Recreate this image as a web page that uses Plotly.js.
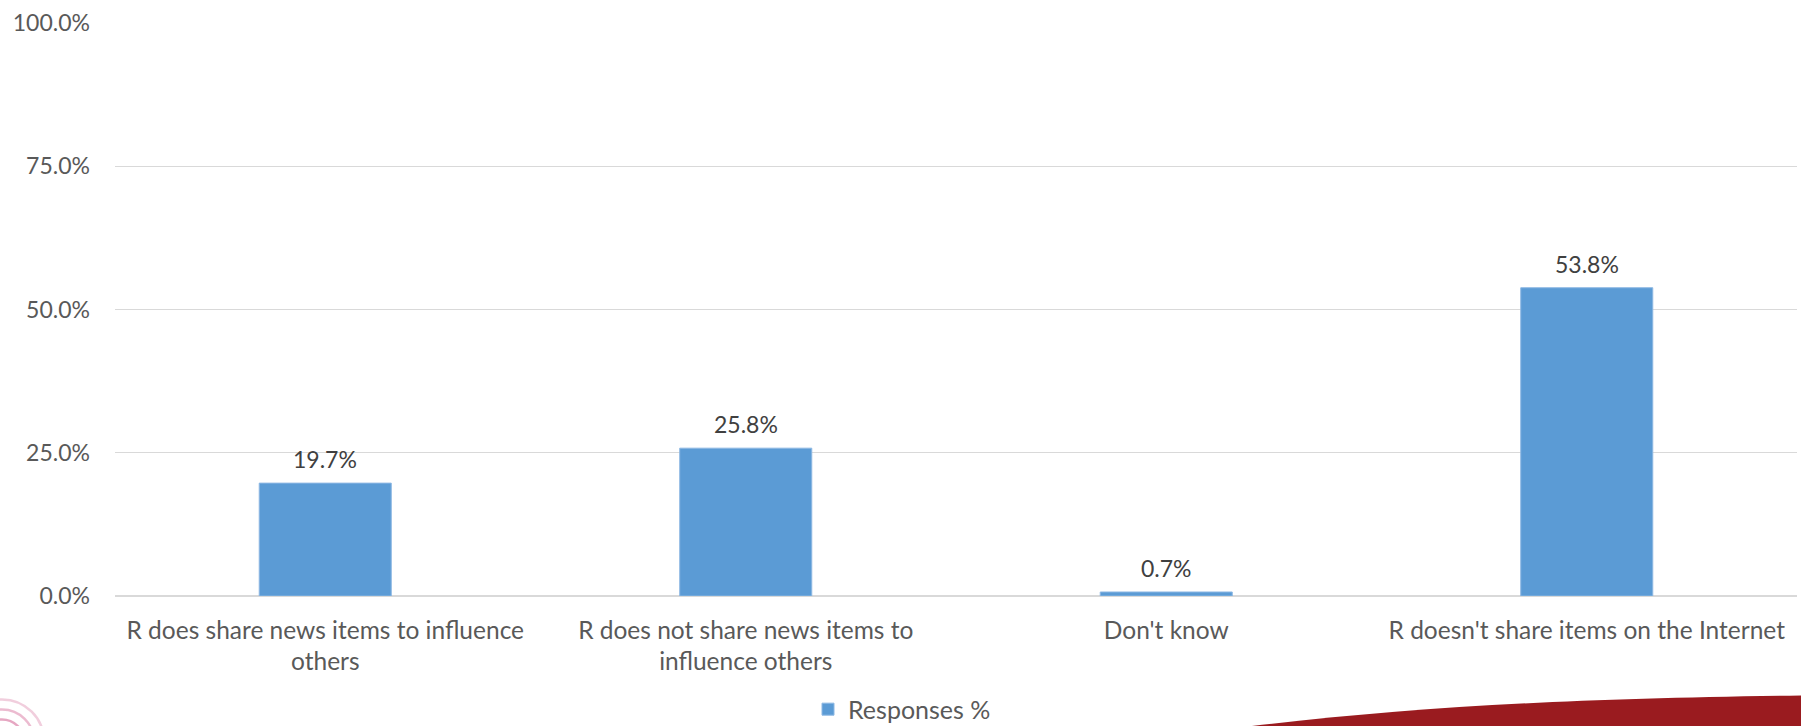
<!DOCTYPE html>
<html>
<head>
<meta charset="utf-8">
<script src="https://cdn.plot.ly/plotly-3.0.1.min.js"></script>
<style>html,body{margin:0;padding:0;background:#fff;}#chart{width:1801px;height:726px;}</style>
</head>
<body>
<div id="chart"></div>
<script>
const categories = [
  "R does share news items to influence<br>others",
  "R does not share news items to<br>influence others",
  "Don't know",
  "R doesn't share items on the Internet"
];
const responses = [0.197, 0.258, 0.007, 0.538];
const seriesName = "Responses %";
const yTickVals = [0, 0.25, 0.5, 0.75, 1.0];

// layout geometry (pixels)
const W = 1801, H = 726;
const L = 115, R = 4, T = 23, B = 129.5;
const pw = W - L - R, ph = H - T - B;
const px = x => (x - L) / pw;
const py = y => (H - B - y) / ph;

const FONT = "Lato, 'Open Sans', sans-serif";

const trace = {
  type: 'bar',
  x: categories,
  y: responses,
  name: seriesName,
  marker: {color: '#5B9BD5', line: {color: '#8DB8E3', width: 1}},
  width: 0.314,
  hoverinfo: 'none',
  showlegend: true
};

const annotations = categories.map((c, i) => ({
  x: c, y: responses[i], xref: 'x', yref: 'y',
  text: (responses[i] * 100).toFixed(1) + '%',
  showarrow: false, yanchor: 'middle', yshift: 24,
  font: {family: FONT, size: 23, color: '#404040'}
}));

// decorative slide elements
const swoosh = {
  type: 'path', xref: 'paper', yref: 'paper', layer: 'above',
  path: `M ${px(1240)},${py(728)} C ${px(1410)},${py(708)} ${px(1560)},${py(699)} ${px(1803)},${py(696)} L ${px(1803)},${py(728)} Z`,
  fillcolor: '#9A1B1F', line: {width: 0}
};
const rings = [12, 22, 32, 42].map((r, i) => ({
  type: 'circle', xref: 'paper', yref: 'paper',
  x0: px(2 - r), x1: px(2 + r), y0: py(742 + r), y1: py(742 - r),
  line: {color: 'rgba(200,60,120,' + (0.55 - i * 0.1) + ')', width: 2.5},
  fillcolor: 'rgba(0,0,0,0)'
}));

const layout = {
  width: W, height: H,
  margin: {l: L, r: R, t: T, b: B, pad: 0, autoexpand: false},
  paper_bgcolor: '#ffffff', plot_bgcolor: '#ffffff',
  font: {family: FONT, size: 23, color: '#595959'},
  xaxis: {
    type: 'category',
    showgrid: false, zeroline: false,
    showline: false, ticks: '',
    tickfont: {family: FONT, size: 24.5, color: '#595959'},
    ticklabelstandoff: 17,
    automargin: false,
    fixedrange: true
  },
  yaxis: {
    range: [0, 1],
    tickvals: yTickVals,
    tickformat: '.1%',
    showgrid: true, gridcolor: '#D9D9D9', gridwidth: 1.4,
    zeroline: true, zerolinecolor: '#D9D9D9', zerolinewidth: 1.6,
    showline: false, ticks: '',
    ticklabelstandoff: 24,
    automargin: false,
    tickfont: {family: FONT, size: 23, color: '#595959'},
    fixedrange: true
  },
  showlegend: true,
  legend: {
    orientation: 'h', xanchor: 'left', yanchor: 'middle',
    x: px(808), y: py(710),
    font: {family: FONT, size: 25, color: '#595959'},
    bgcolor: 'rgba(0,0,0,0)'
  },
  annotations: annotations,
  shapes: [swoosh].concat(rings)
};

Plotly.newPlot('chart', [trace], layout, {displayModeBar: false, staticPlot: true});
</script>
</body>
</html>
